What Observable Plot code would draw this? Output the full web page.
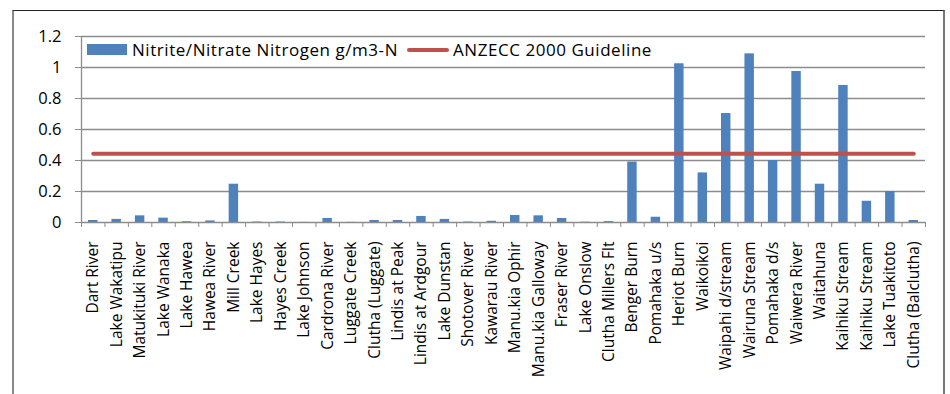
<!DOCTYPE html>
<html>
<head>
<meta charset="utf-8">
<script src="https://cdn.jsdelivr.net/npm/d3@7"></script>
<script src="https://cdn.jsdelivr.net/npm/@observablehq/plot@0.6"></script>
<style>
  body { margin: 0; background: #fff; }
  #wrap { position: relative; width: 950px; height: 394px; overflow: hidden; font-family: "Open Sans", sans-serif; }
  #frame { position: absolute; left: 12px; top: 10px; width: 929px; height: 420px;
           border-top: 1px solid #222; border-left: 2px solid #8a8a8a; border-right: 2px solid #777; }
  #chart { position: absolute; left: 0; top: 0; }
  #legend { position: absolute; left: 87px; top: 38px; display: flex; align-items: center;
            font-size: 17px; letter-spacing: 0.55px; color: #000; white-space: nowrap; }
  .sw-bar { width: 40px; height: 11px; background: #4F81BD; margin-right: 5px; }
  .sw-line { width: 42px; height: 4px; border-radius: 2px; background: #C0504D; margin: 0 4px 0 9px; }
</style>
</head>
<body>
<div id="wrap">
  <div id="frame"></div>
  <div id="chart"></div>
  <div id="legend">
    <div class="sw-bar"></div><span>Nitrite/Nitrate Nitrogen g/m3-N</span>
    <div class="sw-line"></div><span>ANZECC 2000 Guideline</span>
  </div>
</div>
<script>
// Monitoring sites, in sampling order (upper catchment to the coast)
const sites = [
  "Dart River", "Lake Wakatipu", "Matukituki River", "Lake Wanaka", "Lake Hawea",
  "Hawea River", "Mill Creek", "Lake Hayes", "Hayes Creek", "Lake Johnson",
  "Cardrona River", "Luggate Creek", "Clutha (Luggate)", "Lindis at Peak", "Lindis at Ardgour",
  "Lake Dunstan", "Shotover River", "Kawarau River", "Manu.kia Ophir", "Manu.kia Galloway",
  "Fraser River", "Lake Onslow", "Clutha Millers Flt", "Benger Burn", "Pomahaka u/s",
  "Heriot Burn", "Waikoikoi", "Waipahi d/stream", "Wairuna Stream", "Pomahaka d/s",
  "Waiwera River", "Waitahuna", "Kaihiku Stream", "Kaihiku Stream", "Lake Tuakitoto",
  "Clutha (Balclutha)"
];

// Nitrite/nitrate nitrogen, g/m3-N
const nitrate = [
  0.013, 0.020, 0.043, 0.028, 0.005,
  0.010, 0.247, 0.003, 0.003, 0.001,
  0.026, 0.001, 0.013, 0.013, 0.039,
  0.020, 0.003, 0.008, 0.045, 0.043,
  0.026, 0.002, 0.006, 0.390, 0.034,
  1.024, 0.320, 0.703, 1.088, 0.400,
  0.974, 0.247, 0.884, 0.137, 0.200,
  0.013
];

// ANZECC 2000 trigger value for nitrite/nitrate nitrogen
const guideline = 0.444;

const yTicks = [0, 0.2, 0.4, 0.6, 0.8, 1, 1.2];

const idx = d3.range(sites.length);
const bounds = d3.range(sites.length + 1);
const centers = idx.map(i => i + 0.5);
const grey = "#8c8c8c";

const chart = Plot.plot({
  width: 950,
  height: 394,
  marginLeft: 81,
  marginRight: 25,
  marginTop: 36,
  marginBottom: 172,
  style: { fontFamily: "'Open Sans', sans-serif", color: "#000", background: "transparent" },
  x: { type: "linear", domain: [0, sites.length], label: null },
  y: { domain: [0, 1.2], label: null },
  marks: [
    Plot.ruleY(yTicks.filter(t => t > 0), { stroke: grey, strokeWidth: 1.3 }),
    Plot.rectY(idx, {
      x1: i => i, x2: i => i + 1, y1: 0, y2: i => nitrate[i],
      fill: "#4F81BD", insetLeft: 7, insetRight: 7
    }),
    Plot.lineY(idx, {
      x: i => i + 0.5, y: () => guideline,
      stroke: "#C0504D", strokeWidth: 4, strokeLinecap: "round"
    }),
    Plot.ruleY([0], { stroke: grey, strokeWidth: 1.3 }),
    Plot.ruleX([0], { y1: 0, y2: 1.2, stroke: grey, strokeWidth: 1.3 }),
    Plot.axisY(yTicks, {
      tickSize: 6, tickPadding: 14, fontSize: 16.5, stroke: grey,
      tickFormat: d => String(d)
    }),
    Plot.axisX(bounds, { tickSize: 5, stroke: grey, tickFormat: () => "" }),
    Plot.axisX(centers, {
      tickSize: 0, tickPadding: 19, tickRotate: -90, fontSize: 15.5,
      tickFormat: d => sites[d - 0.5]
    })
  ]
});

document.getElementById("chart").appendChild(chart);
</script>
</body>
</html>
